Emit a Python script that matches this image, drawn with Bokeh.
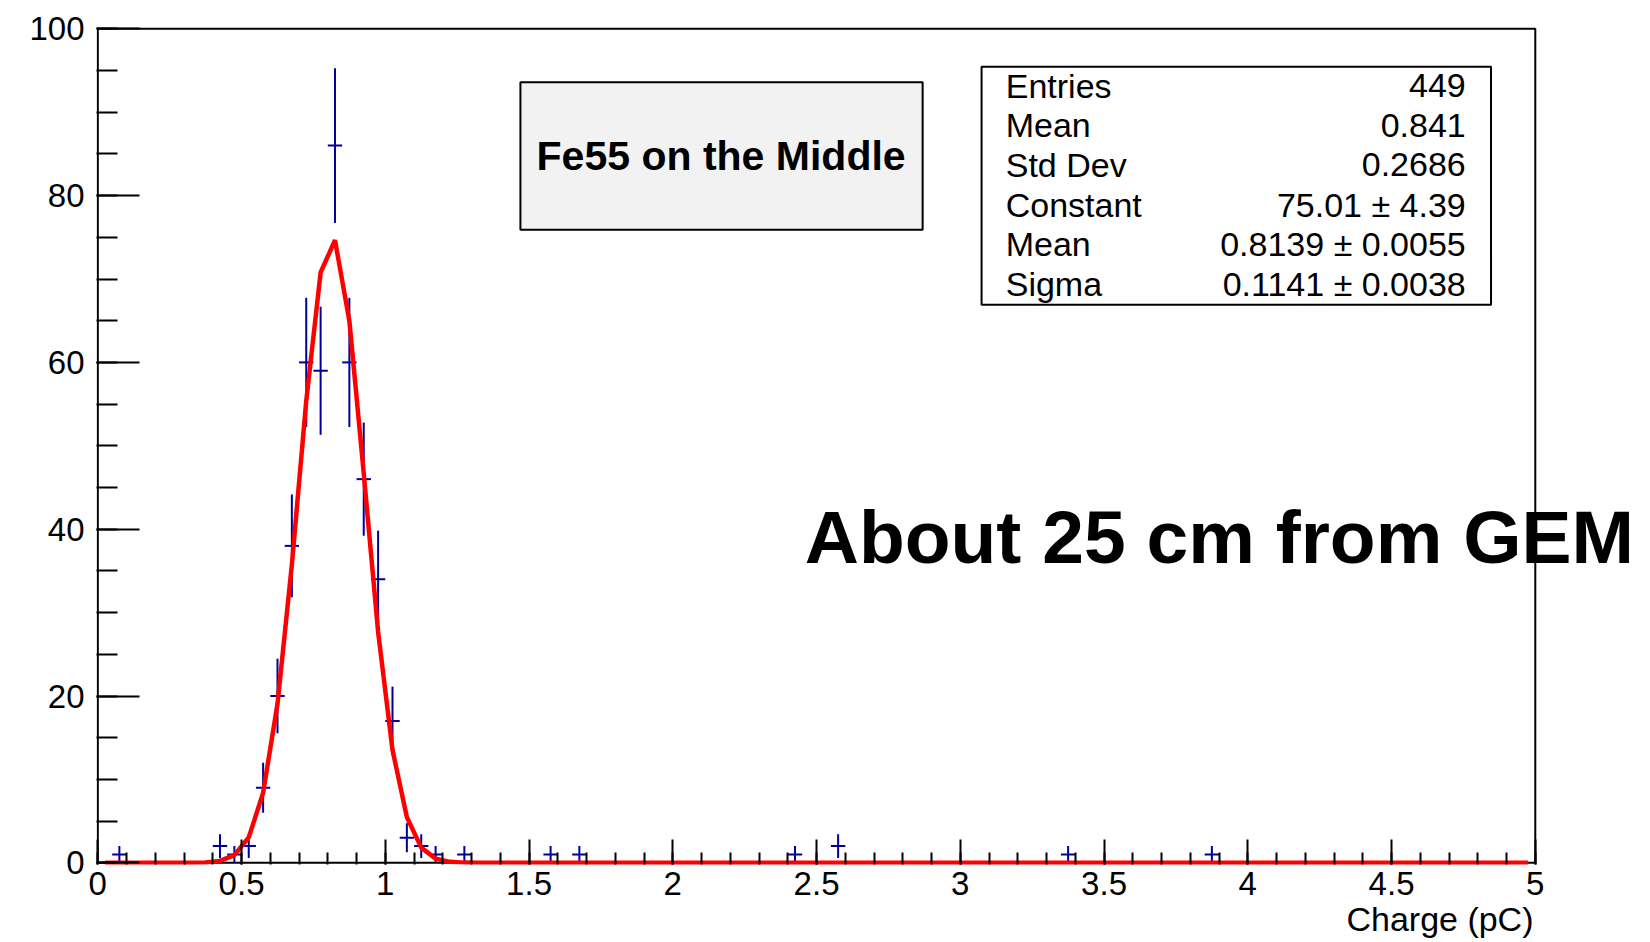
import numpy as np
from bokeh.plotting import figure
from bokeh.models import Range1d, FixedTicker, Label, ColumnDataSource, Title
from bokeh.core.properties import value
from bokeh.embed import file_html
from bokeh.resources import INLINE

# ---------------- data ----------------
bin_width = 0.05
n_bins = 100
x_min, x_max = 0.0, 5.0
y_min, y_max = 0.0, 100.0

# non-empty histogram bins (bin centre, counts)
bin_centers = [0.075, 0.425, 0.475, 0.525, 0.575, 0.625, 0.675, 0.725, 0.775,
               0.825, 0.875, 0.925, 0.975, 1.025, 1.075, 1.125, 1.175, 1.275,
               1.575, 1.675, 2.425, 2.575, 3.375, 3.875]
counts = [1, 2, 1, 2, 9, 20, 38, 60, 59,
          86, 60, 46, 34, 17, 3, 2, 1, 1,
          1, 1, 1, 2, 1, 1]

# Gaussian fit parameters (from the stats box)
fit_constant = 75.01
fit_mean = 0.8139
fit_sigma = 0.1141

stat_names = ["Entries", "Mean", "Std Dev", "Constant", "Mean", "Sigma"]
stat_values = ["449", "0.841", "0.2686", "75.01 \u00b1 4.39",
               "0.8139 \u00b1 0.0055", "0.1141 \u00b1 0.0038"]

x_tick_values = [0, 0.5, 1, 1.5, 2, 2.5, 3, 3.5, 4, 4.5, 5]
x_tick_labels = ["0", "0.5", "1", "1.5", "2", "2.5", "3", "3.5", "4", "4.5", "5"]
y_tick_values = [0, 20, 40, 60, 80, 100]
y_tick_labels = ["0", "20", "40", "60", "80", "100"]

title_text = "Fe55 on the Middle"
note_text = "About 25 cm from GEM"
x_title = "Charge (pC)"

# ---------------- derived ----------------
bc = np.array(bin_centers)
cnt = np.array(counts, dtype=float)
err = np.sqrt(cnt)
half = bin_width / 2.0

# fit function drawn at every bin centre
all_centers = x_min + bin_width * (np.arange(n_bins) + 0.5)
fit_y = fit_constant * np.exp(-0.5 * ((all_centers - fit_mean) / fit_sigma) ** 2)

FONT = "Liberation Sans"

# pixel geometry: the plotting frame is a bit wider than the drawn box so that
# the big note text may run past the right edge of the histogram box
PX_X = 287.5     # pixels per x unit
PX_Y = 8.34      # pixels per y unit
x_start = -1.3 / PX_X
x_end = x_start + 1549 / PX_X
y_start = -1.7 / PX_Y
y_end = y_max + 2.3 / PX_Y

p = figure(width=1650, height=942,
           x_range=Range1d(x_start, x_end), y_range=Range1d(y_start, y_end),
           output_backend="svg", toolbar_location=None,
           min_border_left=96, min_border_right=5,
           min_border_top=26, min_border_bottom=78)
p.background_fill_color = "white"
p.border_fill_color = "white"
p.outline_line_color = None
p.grid.visible = False

minor_x = [round(0.1 * i, 1) for i in range(51)]
minor_y = list(range(0, 101, 5))
p.xaxis.ticker = FixedTicker(ticks=x_tick_values, minor_ticks=minor_x)
p.yaxis.ticker = FixedTicker(ticks=y_tick_values, minor_ticks=minor_y)
p.xaxis.major_label_overrides = {v: l for v, l in zip(x_tick_values, x_tick_labels)}
p.yaxis.major_label_overrides = {v: l for v, l in zip(y_tick_values, y_tick_labels)}

for ax in (p.xaxis[0], p.yaxis[0]):
    ax.axis_line_color = None
    ax.major_tick_line_color = "black"
    ax.major_tick_line_width = 2
    ax.minor_tick_line_color = "black"
    ax.minor_tick_line_width = 2
    ax.major_tick_out = 0
    ax.minor_tick_out = 0
    ax.major_label_text_font = FONT
    ax.major_label_text_font_size = "33px"
    ax.major_label_text_color = "black"

p.xaxis.major_tick_in = 25
p.xaxis.minor_tick_in = 12
p.xaxis.major_label_standoff = 7
p.yaxis.major_tick_in = 43
p.yaxis.minor_tick_in = 21
p.yaxis.major_label_standoff = 12

# x-axis title, right aligned under the histogram box
xt = Title(text=x_title, align="right", offset=112, standoff=0,
           text_font=FONT, text_font_size="34px", text_font_style="normal",
           text_color="black")
p.add_layout(xt, "below")

# histogram box (frame)
p.quad(left=x_min, right=x_max, bottom=y_min, top=y_max,
       fill_color=None, line_color="black", line_width=2)

# error bars
blue = "#000099"
p.segment(x0=bc, y0=cnt - err, x1=bc, y1=cnt + err, line_color=blue, line_width=2)
p.segment(x0=bc - half, y0=cnt, x1=bc + half, y1=cnt, line_color=blue, line_width=2)

# fit curve
p.line(all_centers, fit_y, line_color="#ff0000", line_width=4.5)

# title box
p.quad(left=1.47, right=2.869, top=93.6, bottom=75.9,
       fill_color="#f2f2f2", line_color="black", line_width=2)
p.add_layout(Label(x=2.168, y=84.72, text=title_text, text_font=FONT,
                   text_font_size="41px", text_font_style="bold",
                   text_align="center", text_baseline="middle",
                   text_color="black"))

# stats box
p.quad(left=3.074, right=4.846, top=95.45, bottom=66.9,
       fill_color="white", line_color="black", line_width=2)
row_y = [93.17, 88.42, 83.67, 78.93, 74.18, 69.43]
src = ColumnDataSource(dict(y=row_y, name=stat_names, val=stat_values,
                            xl=[3.158] * 6, xr=[4.758] * 6))
p.text(x="xl", y="y", text="name", source=src, text_font=value(FONT),
       text_font_size="34px", text_align="left", text_baseline="middle",
       text_color="black")
p.text(x="xr", y="y", text="val", source=src, text_font=value(FONT),
       text_font_size="34px", text_align="right", text_baseline="middle",
       text_color="black")

# big note text (runs past the histogram box)
p.add_layout(Label(x=2.459, y=39.07, text=note_text, text_font=FONT,
                   text_font_size="75px", text_font_style="bold",
                   text_align="left", text_baseline="middle",
                   text_color="black"))

open("out.html", "w").write(file_html(p, INLINE))
